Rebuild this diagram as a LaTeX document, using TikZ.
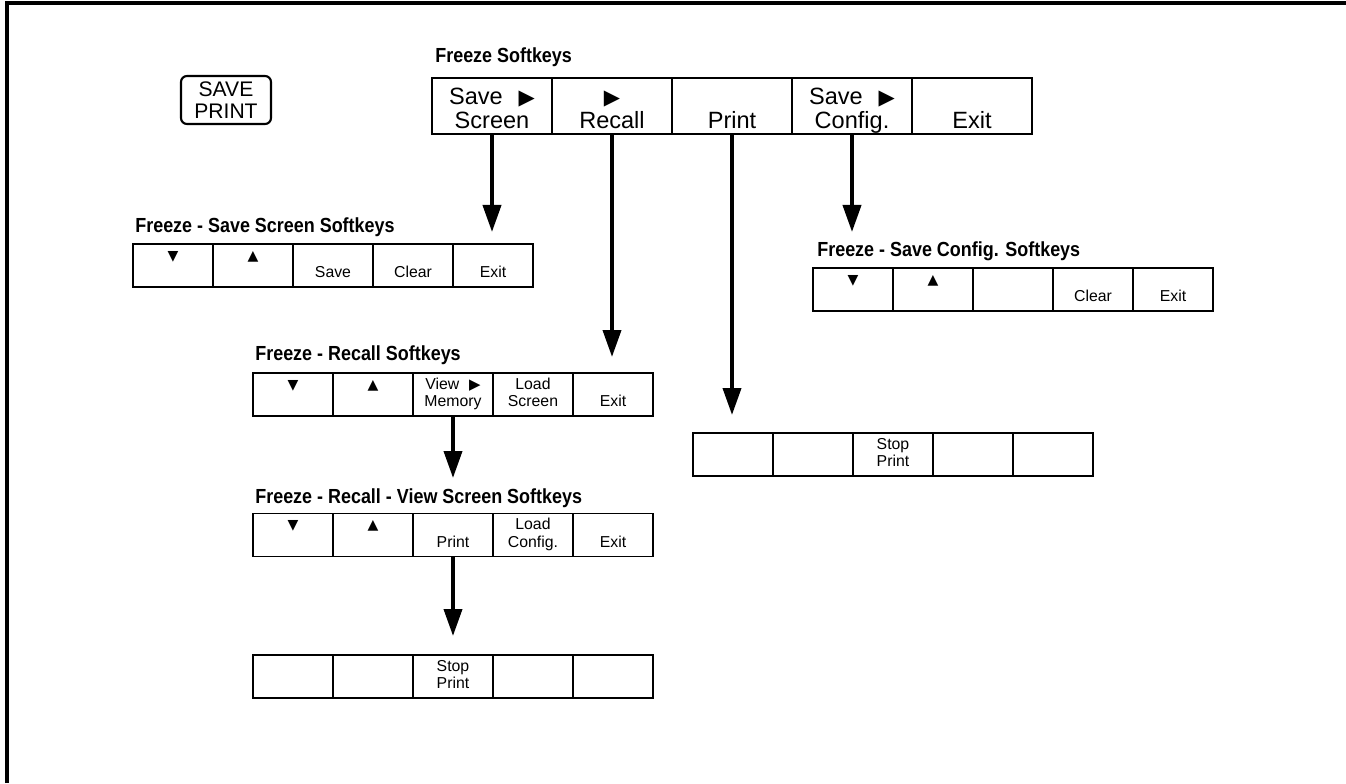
\documentclass[tikz,border=0pt]{standalone}
\usepackage{fontspec}
\setmainfont{Liberation Sans}
\newfontfamily\symfont{DejaVu Sans}
\newfontfamily\titlefont{Liberation Sans}[FakeStretch=0.88]
\usetikzlibrary{arrows.meta}

\newcommand{\dnmark}{{\symfont\fontsize{8}{8}\selectfont ▼}}
\newcommand{\upmark}{{\symfont\fontsize{8}{8}\selectfont ▲}}
\newcommand{\rtmark}{\hspace{.35em}{\symfont\fontsize{8.5}{8.5}\selectfont ▶}}
\newcommand{\rtbig}{\hspace{.4em}{\symfont\fontsize{12}{12}\selectfont ▶}}
\newcommand{\topstrut}{\rule{0pt}{.52cm}}
\newcommand{\botstrut}{\rule[-.1cm]{0pt}{.3cm}}

\begin{document}
\begin{tikzpicture}[
  bigkey/.style={draw,line width=1pt,minimum width=2.4cm,minimum height=1.12cm,inner sep=0pt,align=center,font=\fontsize{13.4}{13.6}\selectfont},
  key/.style={draw,line width=.9pt,minimum width=1.6cm,minimum height=.86cm,inner sep=0pt,align=center,font=\fontsize{9}{9.8}\selectfont},
  title/.style={anchor=base west,inner sep=0pt,font=\fontsize{11.6}{12}\titlefont\bfseries},
  flow/.style={line width=2.2pt,-{Triangle[length=.54cm,width=.36cm]}}]
\useasboundingbox (0,0) rectangle (26.92,15.66);
\draw[line width=2.2pt] (0.14,0) -- (0.14,15.6) -- (26.92,15.6);
\node[draw,line width=1.2pt,rounded corners=.12cm,minimum width=1.8cm,minimum height=.96cm,inner sep=0pt,align=center,font=\fontsize{12}{12.6}\selectfont] (savekey) at (4.52,13.66) {SAVE\\PRINT};
% freeze softkeys
\node[title] (tsk) at (8.7,14.4) {Freeze Softkeys};
\node[bigkey] (sk1) at (9.84,13.54) {\topstrut Save \rtbig\\\botstrut Screen};
\node[bigkey] (sk2) at (12.24,13.54) {\topstrut{\symfont\fontsize{12}{12}\selectfont ▶}\hspace{1.2em}\\\botstrut Recall};
\node[bigkey] (sk3) at (14.64,13.54) {\topstrut\\\botstrut Print};
\node[bigkey] (sk4) at (17.04,13.54) {\topstrut Save \rtbig\\\botstrut Config.};
\node[bigkey] (sk5) at (19.44,13.54) {\topstrut\\\botstrut Exit};
% save screen
\node[title] (tss) at (2.7,11) {Freeze - Save Screen Softkeys};
\node[key] (ss1) at (3.46,10.35) {\dnmark\strut\\\strut};
\node[key] (ss2) at (5.06,10.35) {\upmark\strut\\\strut};
\node[key] (ss3) at (6.66,10.35) {\strut\\\strut Save};
\node[key] (ss4) at (8.26,10.35) {\strut\\\strut Clear};
\node[key] (ss5) at (9.86,10.35) {\strut\\\strut Exit};
% save config
\node[title] (tsc) at (16.34,10.52) {Freeze - Save Config. Softkeys};
\node[key] (sc1) at (17.06,9.87) {\dnmark\strut\\\strut};
\node[key] (sc2) at (18.66,9.87) {\upmark\strut\\\strut};
\node[key] (sc3) at (20.26,9.87) {};
\node[key] (sc4) at (21.86,9.87) {\strut\\\strut Clear};
\node[key] (sc5) at (23.46,9.87) {\strut\\\strut Exit};
% recall
\node[title] (trc) at (5.1,8.46) {Freeze - Recall Softkeys};
\node[key] (rc1) at (5.86,7.77) {\dnmark\strut\\\strut};
\node[key] (rc2) at (7.46,7.77) {\upmark\strut\\\strut};
\node[key] (rc3) at (9.06,7.77) {\strut View \rtmark\\\strut Memory};
\node[key] (rc4) at (10.66,7.77) {\strut Load\\\strut Screen};
\node[key] (rc5) at (12.26,7.77) {\strut\\\strut Exit};
% print
\node[key] (pa1) at (14.66,6.57) {};
\node[key] (pa2) at (16.26,6.57) {};
\node[key] (pa3) at (17.86,6.57) {\strut Stop\\\strut Print};
\node[key] (pa4) at (19.46,6.57) {};
\node[key] (pa5) at (21.06,6.57) {};
% view screen
\node[title] (tvs) at (5.1,5.6) {Freeze - Recall - View Screen Softkeys};
\node[key] (vs1) at (5.86,4.96) {\dnmark\strut\\\strut};
\node[key] (vs2) at (7.46,4.96) {\upmark\strut\\\strut};
\node[key] (vs3) at (9.06,4.96) {\strut\\\strut Print};
\node[key] (vs4) at (10.66,4.96) {\strut Load\\\strut Config.};
\node[key] (vs5) at (12.26,4.96) {\strut\\\strut Exit};
\node[key] (pb1) at (5.86,2.13) {};
\node[key] (pb2) at (7.46,2.13) {};
\node[key] (pb3) at (9.06,2.13) {\strut Stop\\\strut Print};
\node[key] (pb4) at (10.66,2.13) {};
\node[key] (pb5) at (12.26,2.13) {};
% arrows
\coordinate (tip1) at (9.84,11.02);
\coordinate (tip2) at (12.24,8.52);
\coordinate (tip3) at (14.64,7.36);
\coordinate (tip4) at (17.04,11.02);
\coordinate (tip5) at (9.06,6.1);
\coordinate (tip6) at (9.06,2.94);
\draw[flow] (sk1.south) -- (tip1);
\draw[flow] (sk2.south) -- (tip2);
\draw[flow] (sk3.south) -- (tip3);
\draw[flow] (sk4.south) -- (tip4);
\draw[flow] (rc3.south) -- (tip5);
\draw[flow] (vs3.south) -- (tip6);
\end{tikzpicture}
\end{document}
